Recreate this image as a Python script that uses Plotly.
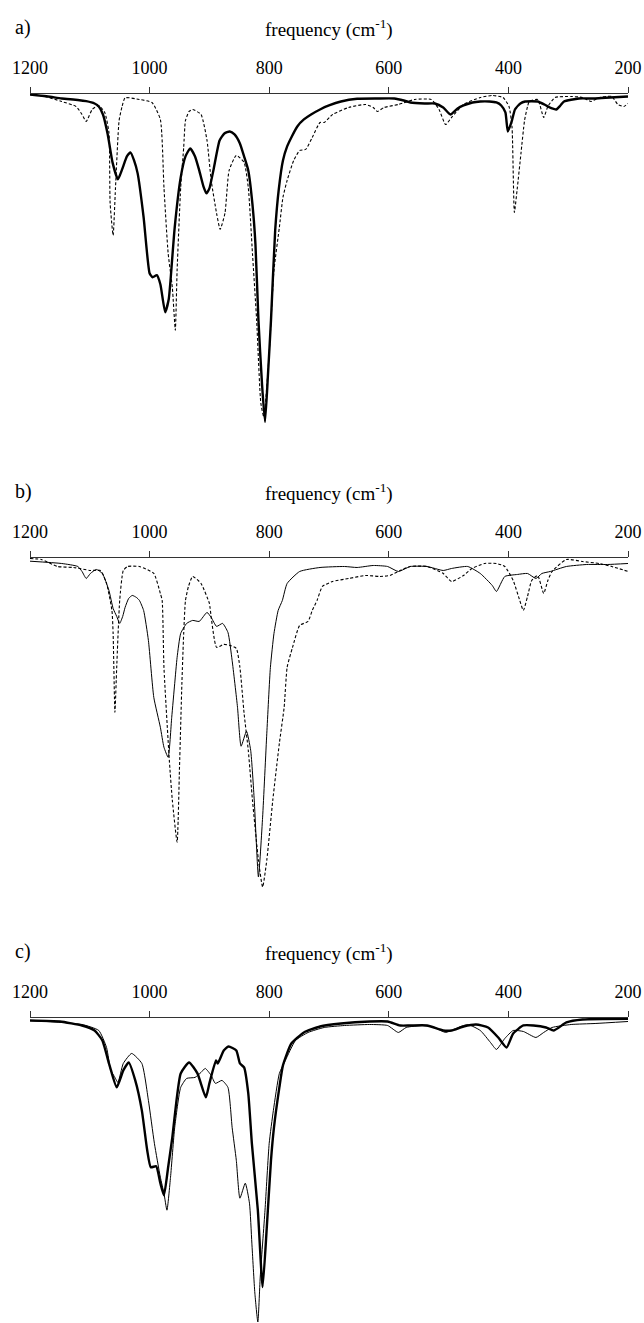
import plotly.graph_objects as go

# ---------------- data (frequency in cm-1, intensity in arbitrary units, dips downward) -------------
tick_vals = [1200, 1000, 800, 600, 400, 200]
panel_labels = ["a)", "b)", "c)"]
axis_title = "frequency (cm<sup>-1</sup>)"

# panel a - thick solid
a_thick_freq = [1200, 1170, 1147, 1120, 1106, 1092, 1085, 1078, 1070, 1062, 1053, 1046, 1038, 1032, 1026, 1020,
                1010, 1000, 995, 988, 982, 974, 968, 965, 958, 948, 940, 932, 924, 917, 910, 905, 900, 893, 883,
                875, 866, 858, 849, 842, 835, 828, 823, 818, 812, 807, 802, 797, 790, 784, 777, 770, 763, 753,
                742, 730, 715, 700, 680, 653, 620, 591, 575, 564, 540, 523, 509, 497, 485, 475, 460, 447, 432,
                420, 412, 405, 401, 395, 389, 380, 372, 351, 340, 334, 327, 320, 313, 307, 282, 255, 230, 200]
a_thick_int = [0, 2, 4, 5.5, 6.7, 9, 12, 20, 40, 68, 85, 75, 62, 58, 66, 79,
               123, 179, 183, 181, 190, 218, 205, 186, 133, 83, 62, 54, 62, 76, 92, 99, 94, 75, 46,
               39, 37, 40, 49, 62, 76, 110, 150, 226, 290, 328, 280, 226, 136, 95, 66, 52, 43, 32,
               25, 20, 15, 11, 7, 4.3, 4, 4, 6, 8, 9, 9, 13, 20, 14, 11, 8, 7, 7,
               8, 11, 18, 37, 28, 15, 9, 7, 7, 10, 12, 14, 15, 11, 7, 4, 4, 3, 2]

# panel a - dashed
a_dash_freq = [1200, 1175, 1147, 1123, 1113, 1106, 1096, 1085, 1075, 1068, 1066, 1061, 1057, 1051, 1046, 1041,
               1017, 996, 982, 976, 969, 962, 957, 954, 948, 943, 940, 934, 928, 914, 904, 897, 888, 882, 874,
               867, 855, 842, 835, 828, 821, 814, 809, 800, 792, 783, 777, 770, 759, 749, 739, 728, 715, 708,
               694, 667, 639, 626, 619, 608, 584, 557, 529, 516, 505, 495, 475, 447, 427, 409, 399, 394, 390,
               385, 379, 373, 368, 365, 351, 341, 334, 322, 295, 276, 262, 248, 227, 217, 207, 200]
a_dash_int = [0, 2, 7, 12, 20, 27, 15, 11, 18, 38, 109, 141, 93, 26, 12, 3.3,
              5, 8, 25, 93, 159, 193, 236, 176, 93, 53, 26, 17, 15, 20, 46, 86, 119, 135, 119,
              76, 61, 68, 93, 159, 226, 309, 323, 259, 176, 133, 103, 86, 66, 56, 55, 43, 28, 28,
              20, 13, 10, 13, 17, 13, 10, 5, 5, 15, 30, 23, 10, 3, 1, 3, 12, 32, 118,
              93, 59, 26, 12, 7, 5, 23, 12, 3, 2, 3, 7, 3, 2, 10, 12, 9]

# panel b - thin solid
b_solid_freq = [1200, 1147, 1120, 1113, 1106, 1099, 1089, 1079, 1068, 1061, 1055, 1050, 1045, 1041, 1035, 1029,
                1022, 1017, 1010, 1002, 993, 982, 976, 969, 963, 958, 954, 948, 938, 928, 917, 904, 897, 888,
                878, 869, 862, 853, 847, 838, 831, 825, 818, 811, 804, 798, 792, 785, 778, 770, 749, 715, 674,
                653, 626, 602, 584, 564, 536, 509, 495, 468, 447, 427, 420, 406, 385, 368, 354, 344, 330, 303,
                269, 234, 200]
b_solid_int = [2.7, 5, 8, 13, 20, 15, 11, 15, 32, 50, 58, 65, 58, 49, 40, 37,
               39, 42, 52, 82, 139, 169, 189, 199, 159, 125, 99, 75, 65, 62, 63, 54, 59, 68,
               65, 74, 102, 149, 188, 173, 192, 242, 319, 259, 175, 109, 75, 52, 42, 25, 13, 9, 8,
               9, 7, 8, 13, 8, 8, 12, 10, 8, 15, 27, 33, 18, 16, 15, 20, 15, 13, 8,
               6, 6, 5]

# panel b - dashed
b_dash_freq = [1200, 1181, 1154, 1127, 1099, 1082, 1072, 1063, 1061, 1058, 1055, 1050, 1044, 1037, 1017, 993,
               982, 979, 976, 967, 962, 954, 950, 946, 943, 940, 935, 928, 914, 900, 899, 888, 876, 866, 855,
               849, 842, 835, 828, 818, 811, 804, 794, 783, 775, 770, 761, 749, 735, 728, 720, 711, 694, 667,
               639, 615, 598, 581, 564, 536, 509, 495, 475, 461, 440, 420, 406, 392, 381, 375, 368, 361, 351,
               341, 334, 327, 303, 276, 248, 227, 200]
b_dash_int = [0, 1, 8, 9, 12, 12, 25, 52, 75, 154, 109, 42, 12, 8, 8, 15,
              35, 42, 109, 202, 242, 284, 209, 125, 75, 42, 28, 18, 25, 45, 49, 89, 86, 87, 90,
              109, 155, 192, 242, 302, 329, 302, 242, 185, 149, 109, 89, 67, 63, 52, 42, 28, 23, 20,
              17, 18, 17, 12, 8, 8, 15, 23, 17, 10, 5, 5, 8, 22, 42, 52, 38, 22, 17,
              35, 22, 13, 1, 3, 5, 8, 13]

# panel c - thick solid
c_thick_freq = [1200, 1150, 1113, 1092, 1079, 1068, 1066, 1055, 1044, 1035, 1024, 1013, 1004, 998, 989, 982,
                976, 969, 962, 955, 948, 934, 920, 906, 900, 889, 886, 876, 868, 855, 849, 842, 835, 829, 819,
                811, 804, 797, 792, 783, 777, 763, 742, 715, 680, 632, 602, 581, 564, 536, 509, 495, 475, 454,
                434, 417, 403, 392, 375, 358, 337, 324, 303, 276, 200]
c_thick_int = [2, 3, 7, 12, 22, 45, 49, 69, 52, 44, 62, 92, 132, 149, 148, 165,
               177, 149, 119, 82, 55, 44, 55, 79, 65, 42, 45, 32, 28, 32, 45, 49, 75, 125, 192,
               269, 209, 142, 109, 69, 47, 25, 14, 8, 5, 3, 3, 7, 7, 7, 12, 12, 8, 6,
               9, 19, 29, 15, 7, 7, 9, 12, 4, 1, 0.3]

# panel c - thin solid
c_thin_freq = [1200, 1113, 1085, 1072, 1065, 1059, 1053, 1044, 1030, 1013, 1002, 992, 982, 976, 971, 965,
               958, 948, 938, 924, 914, 907, 897, 890, 879, 869, 862, 855, 849, 840, 833, 829, 824, 819, 815,
               807, 800, 793, 783, 773, 756, 735, 708, 674, 632, 602, 584, 571, 543, 523, 505, 488, 468, 447,
               430, 420, 406, 392, 375, 354, 341, 327, 295, 255, 200]
c_thin_int = [2, 6, 12, 29, 52, 58, 64, 45, 35, 45, 82, 125, 159, 175, 192, 159,
              109, 69, 60, 59, 54, 50, 57, 65, 62, 69, 109, 142, 180, 165, 185, 225, 275, 304, 259,
              192, 125, 92, 55, 42, 22, 14, 9, 7, 6, 7, 14, 9, 7, 9, 14, 10, 6, 12,
              24, 31, 20, 12, 13, 19, 14, 9, 6, 5, 3]

# ---------------- layout geometry ----------------
W, H = 644, 1323
ML, MR = 30, 16
axis_px = [94, 558, 1018]          # pixel row of each frequency axis
bottom_px = [434, 898, 1323]        # pixel row of bottom of each panel
PX_PER_UNIT = 1.0


def pf(py):
    return 1 - py / H


FONT = "Liberation Serif, Times New Roman, serif"

fig = go.Figure()

panels = [
    [(a_thick_freq, a_thick_int, dict(width=2.4)),
     (a_dash_freq, a_dash_int, dict(width=1.1, dash="3px,2px"))],
    [(b_solid_freq, b_solid_int, dict(width=1.0)),
     (b_dash_freq, b_dash_int, dict(width=1.1, dash="3px,2px"))],
    [(c_thin_freq, c_thin_int, dict(width=1.0)),
     (c_thick_freq, c_thick_int, dict(width=2.4))],
]

annotations = []
for i, traces in enumerate(panels):
    xn = "x" if i == 0 else f"x{i+1}"
    yn = "y" if i == 0 else f"y{i+1}"
    for fr, inten, ln in traces:
        fig.add_trace(go.Scatter(
            x=fr, y=[-v for v in inten], mode="lines",
            line=dict(color="black", shape="spline", smoothing=0.5, **ln),
            xaxis=xn, yaxis=yn, showlegend=False, hoverinfo="skip"))
    span = (bottom_px[i] - axis_px[i]) / PX_PER_UNIT
    xa = dict(domain=[0, 1], anchor=yn, side="top", range=[1200, 200],
              tickmode="array", tickvals=tick_vals, ticktext=[str(t) for t in tick_vals],
              ticks="outside", ticklen=6, tickwidth=1, tickcolor="#333",
              showline=True, linecolor="#333", linewidth=1, showgrid=False, zeroline=False,
              tickfont=dict(family=FONT, size=18, color="black"), ticklabelstandoff=6)
    ya = dict(domain=[pf(bottom_px[i]), pf(axis_px[i])], anchor=xn,
              range=[-span, 0.5], visible=False, showgrid=False, zeroline=False)
    key = "" if i == 0 else str(i + 1)
    fig.update_layout(**{f"xaxis{key}": xa, f"yaxis{key}": ya})
    annotations.append(dict(text=panel_labels[i], xref="paper", yref="paper",
                            x=(13 - ML) / (W - ML - MR), y=pf(axis_px[i] - 67),
                            xanchor="left", yanchor="middle", showarrow=False,
                            font=dict(family=FONT, size=20, color="black")))
    annotations.append(dict(text=axis_title, xref="paper", yref="paper",
                            x=0.5, y=pf(axis_px[i] - 66),
                            xanchor="center", yanchor="middle", showarrow=False,
                            font=dict(family=FONT, size=19, color="black")))

fig.update_layout(width=W, height=H, margin=dict(l=ML, r=MR, t=0, b=0),
                  paper_bgcolor="white", plot_bgcolor="white",
                  annotations=annotations, showlegend=False)

fig.write_html("out.html", config={"displayModeBar": False, "staticPlot": True},
               post_script="document.body.style.margin='0px';document.body.style.overflow='hidden';")
